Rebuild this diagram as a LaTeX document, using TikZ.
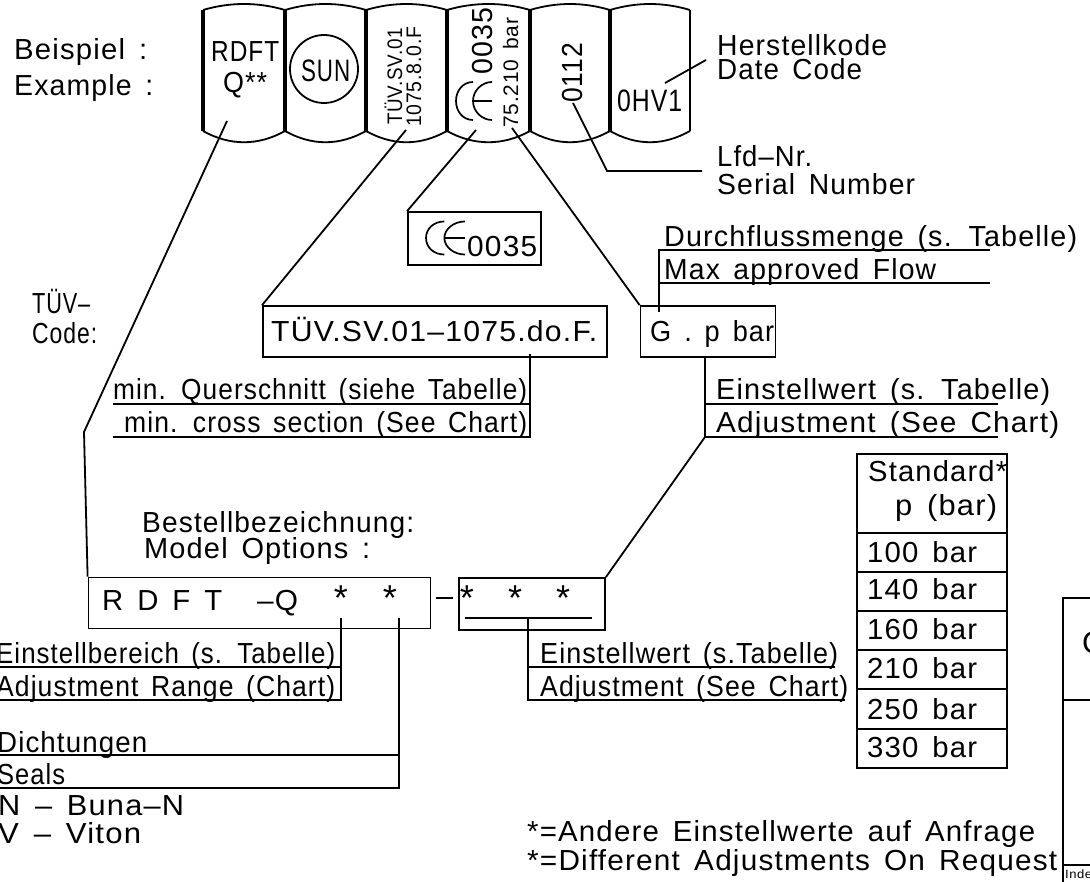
\documentclass[tikz,border=0pt]{standalone}
\usepackage{fontspec}
\setmainfont{Liberation Sans}[LetterSpace=4,WordSpace=1.5]
\newcommand{\fitw}[2]{\resizebox{#1pt}{\height}{#2}}
\tikzset{
  big/.style={inner sep=0pt, anchor=base west, font=\fontsize{29}{30}\selectfont},
  tall/.style={inner sep=0pt, anchor=base west, font=\fontsize{31}{32}\selectfont},
  rot/.style={inner sep=0pt, rotate=90, anchor=base west, font=\fontsize{21}{24}\selectfont},
  rottall/.style={inner sep=0pt, rotate=90, anchor=base west, font=\fontsize{29}{30}\selectfont},
  starmark/.style={inner sep=0pt, anchor=base, font=\fontsize{36}{36}\selectfont},
  leader/.style={line width=1.8pt},
  heavy/.style={line width=4pt},
  framebox/.style={draw, line width=1.8pt, inner sep=0pt}
}
\newcommand{\cesign}[3]{% left end, middle, scaling
  \begin{scope}[shift={(#1,#2)}, #3, line width=1.7pt]
    \draw (17,-19) .. controls (7,-19) and (0,-10.5) .. (0,0) .. controls (0,10.5) and (7,19) .. (17,19);
    \draw (36,-19) .. controls (26,-19) and (17,-10.5) .. (17,0) .. controls (17,10.5) and (26,19) .. (36,19);
    \draw (17,0) -- (36,0);
  \end{scope}}
\begin{document}
\begin{tikzpicture}[x=1pt, y=-1pt]
  \useasboundingbox (0,0) rectangle (1090,882);
  % band
  \foreach \xa/\xb in {203/285,285/366,366/447,447/530,530/610,610/690} {
    \draw[leader] (\xa,10) .. controls ({\xa+27},2) and ({\xb-27},2) .. (\xb,10);
    \draw[leader] (\xa,131) .. controls ({\xa+27},146) and ({\xb-27},146) .. (\xb,131);
  }
  \foreach \xa in {203,285,366,447,530,610} \draw[heavy] (\xa,10) -- (\xa,131);
  \draw[leader] (690,10) -- (690,131);
  \node[big] (rdft) at (211,62) {\fitw{68}{RDFT}};
  \node[big] (qstars) at (223,93) {\fitw{44}{Q**}};
  \node[draw, circle, leader, minimum size=68pt, inner sep=0pt] (sunring) at (324,69) {};
  \node[tall] (sun) at (301,82) {\fitw{49}{SUN}};
  \node[rot] (tuev) at (402,125) {\fitw{97}{TÜV.SV.01}};
  \node[rot] (charge) at (421,127) {\fitw{100}{1075.8.0.F}};
  \node[rottall] (nbcode) at (492,75) {\fitw{67}{0035}};
  \cesign{456}{101}{scale=1}
  \node[rot] (range) at (518,128) {\fitw{110}{75.210 bar}};
  \node[rottall] (serial) at (582,103) {\fitw{60}{0112}};
  \node[tall] (datecode) at (617,112) {\fitw{65}{0HV1}};
  % side labels
  \node[big] (beispiel) at (14,60) {\fitw{133}{Beispiel :}};
  \node[big] (example) at (14,96) {\fitw{139}{Example :}};
  \node[big] (herstell) at (717,56) {\fitw{170}{Herstellkode}};
  \node[big] (date) at (717,80) {\fitw{145}{Date Code}};
  \node[big] (lfd) at (717,167) {\fitw{95}{Lfd--Nr.}};
  \node[big] (sernum) at (717,195) {\fitw{198}{Serial Number}};
  \node[big] (tuevlbl) at (32,314) {\fitw{58}{TÜV--}};
  \node[big] (codelbl) at (32,344) {\fitw{65}{Code:}};
  % boxes
  \node[framebox, minimum width=133pt, minimum height=53pt] (cebox) at (474.5,238.5) {};
  \cesign{426}{238}{xscale=1.08, yscale=0.87}
  \node[big] (cenum) at (467,257) {\fitw{70}{0035}};
  \node[framebox, minimum width=344pt, minimum height=51pt] (tuevbox) at (435,331.5) {};
  \node[big] (tuevtxt) at (271,342) {\fitw{326}{TÜV.SV.01--1075.do.F.}};
  \node[framebox, minimum width=135pt, minimum height=51pt] (gbox) at (708,331.5) {};
  \node[big] (gtxt) at (650,342) {\fitw{124}{G . p bar}};
  \node[framebox, minimum width=342pt, minimum height=51pt] (modelbox) at (259.5,603) {};
  \node[big] (modeltxt) at (102,610) {\fitw{120}{R D F T}};
  \node[big] (modelq) at (257,610) {\fitw{41}{--Q}};
  \node[framebox, minimum width=146pt, minimum height=52pt] (adjbox) at (532,604) {};
  \foreach \xa in {341,390,467,515,563} \node[starmark] at (\xa,610) {*};
  % order labels
  \node[big] (bestell) at (142,532) {\fitw{272}{Bestellbezeichnung:}};
  \node[big] (options) at (144,558) {\fitw{226}{Model Options :}};
  \node[big] (durch) at (664,247) {\fitw{413}{Durchflussmenge (s. Tabelle)}};
  \node[big] (maxflow) at (664,280) {\fitw{272}{Max approved Flow}};
  \node[big] (einst) at (716,400) {\fitw{334}{Einstellwert (s. Tabelle)}};
  \node[big] (adjchart) at (716,432) {\fitw{343}{Adjustment (See Chart)}};
  \node[big] (querschn) at (113,400) {\fitw{414}{min. Querschnitt (siehe Tabelle)}};
  \node[big] (cross) at (124,432) {\fitw{403}{min. cross section (See Chart)}};
  \node[big] (bereich) at (-4,663) {\fitw{339}{Einstellbereich (s. Tabelle)}};
  \node[big] (adjrange) at (-4,696) {\fitw{339}{Adjustment Range (Chart)}};
  \node[big] (dicht) at (-3,752) {\fitw{150}{Dichtungen}};
  \node[big] (seals) at (-3,784) {\fitw{68}{Seals}};
  \node[big] (buna) at (-2,815) {\fitw{186}{N -- Buna--N}};
  \node[big] (viton) at (-2,843) {\fitw{143}{V -- Viton}};
  \node[big] (einst2) at (540,663) {\fitw{298}{Einstellwert (s.Tabelle)}};
  \node[big] (adj2) at (540,696) {\fitw{308}{Adjustment (See Chart)}};
  \node[big] (anfrage) at (527,841) {\fitw{508}{*=Andere Einstellwerte auf Anfrage}};
  \node[big] (request) at (527,870) {\fitw{530}{*=Different Adjustments On Request}};
  % table
  \draw[leader] (857,454) rectangle (1007,768);
  \foreach \ya in {533,572,611,650,689,729} \draw[leader] (857,\ya) -- (1007,\ya);
  \node[big] (std) at (868,482) {\fitw{139}{Standard*}};
  \node[big] (pbar) at (895,515) {\fitw{102}{p (bar)}};
  \foreach \val/\ya in {100/562,140/599,160/639,210/678,250/719,330/757}
    \node[big] at (867,\ya) {\fitw{110}{\val{} bar}};
  % right table, cut by the page
  \draw[leader] (1090,598) -- (1063,598) -- (1063,882);
  \draw[leader] (1063,700) -- (1090,700);
  \draw[leader] (1063,865) -- (1090,865);
  \node[tall] (gcol) at (1082,653) {G};
  \node[inner sep=0pt, anchor=base west, font=\fontsize{12}{12}\selectfont] (inde) at (1065,878) {\fitw{34}{Index}};
  % leaders
  \coordinate (rdftend) at (227,121);
  \coordinate (rdftbend) at (84,432);
  \coordinate (tuevend) at (406,130);
  \coordinate (ceend) at (476,130);
  \coordinate (barend) at (512,128);
  \coordinate (serialend) at (573,103);
  \coordinate (serialbend) at (607,171);
  \coordinate (serialfree) at (702,171);
  \coordinate (dateend) at (665,83);
  \coordinate (datefree) at (706,60);
  \draw[leader] (rdftend) -- (rdftbend) -- (modelbox.north west);
  \draw[leader] (tuevend) -- (tuevbox.north west);
  \draw[leader] (ceend) -- (cebox.north west);
  \draw[leader] (barend) -- (gbox.north west);
  \draw[leader] (serialend) -- (serialbend) -- (serialfree);
  \draw[leader] (dateend) -- (datefree);
  \draw[leader] (659,312) -- (659,250) -- (990,250);
  \draw[leader] (659,283) -- (990,283);
  \draw[leader] (705,357) -- (705,437) -- (998,437);
  \draw[leader] (705,404) -- (998,404);
  \draw[leader] (705,437) -- (adjbox.north east);
  \draw[leader] (530,354) -- (530,437) -- (113,437);
  \draw[leader] (530,404) -- (113,404);
  \draw[leader] (341,618) -- (341,700) -- (0,700);
  \draw[leader] (341,667) -- (0,667);
  \draw[leader] (399,618) -- (399,788) -- (0,788);
  \draw[leader] (399,755) -- (0,755);
  \draw[leader] (465,618) -- (592,618);
  \draw[leader] (528,618) -- (528,700) -- (845,700);
  \draw[leader] (528,667) -- (835,667);
  \draw[leader] (436,598) -- (453,598);
\end{tikzpicture}
\end{document}
